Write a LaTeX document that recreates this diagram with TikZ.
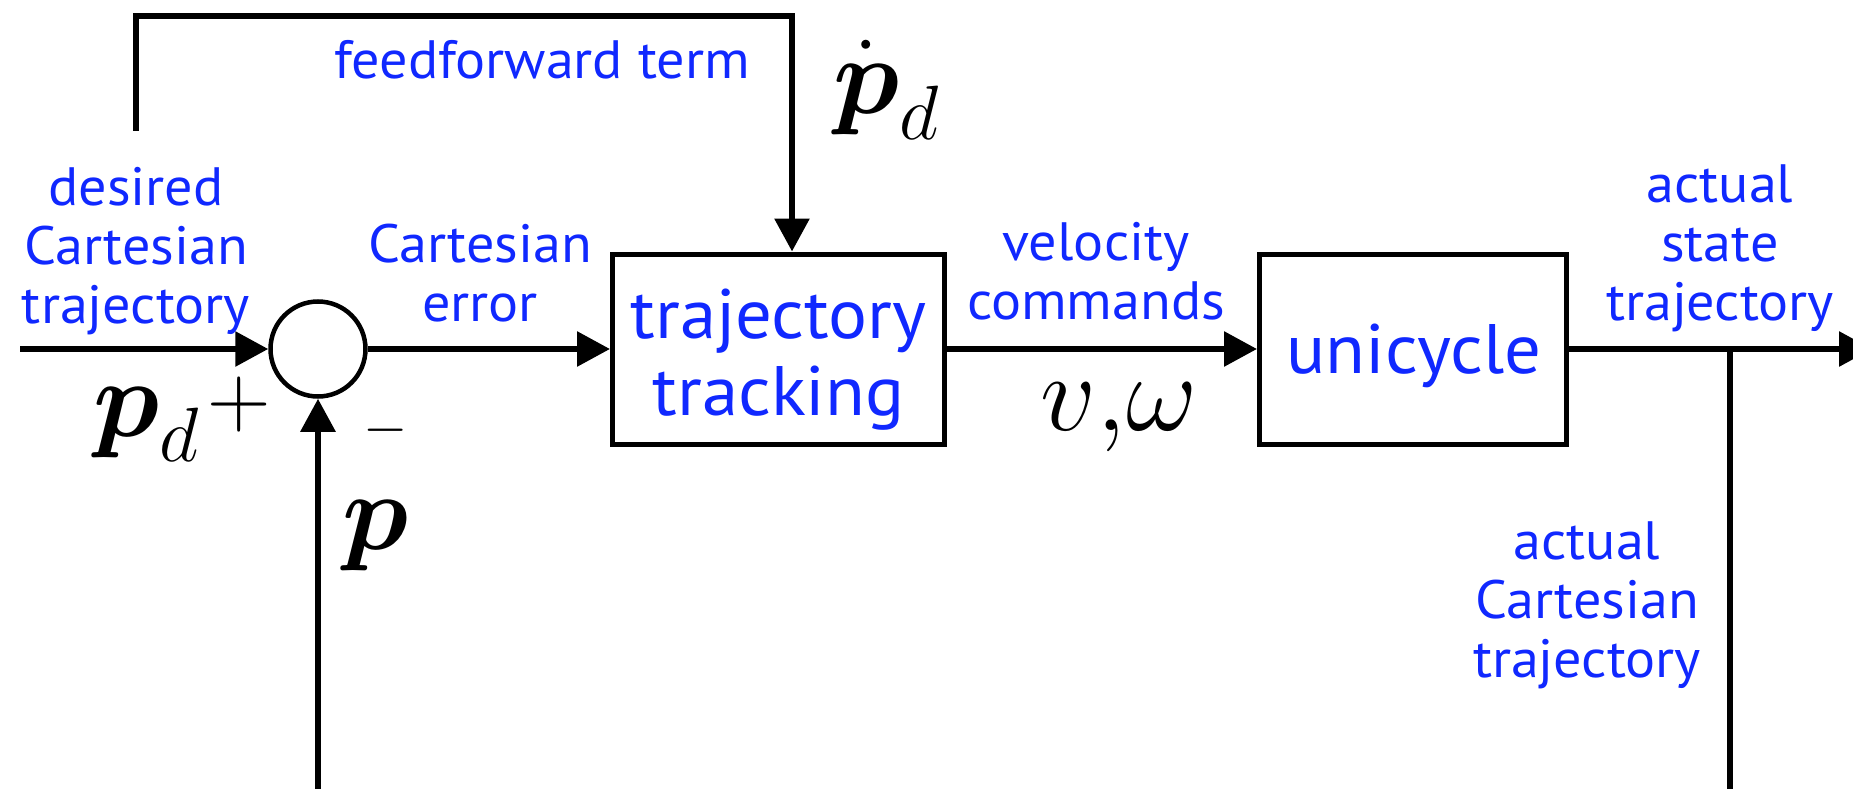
\RequirePackage{fix-cm}
\documentclass[tikz,border=0pt]{standalone}
\usepackage{amsmath}
\usepackage{fontspec}
\setmainfont{PT Sans}[FakeStretch=1.04]
\usetikzlibrary{arrows.meta,calc}
\definecolor{lblue}{RGB}{16,40,255}
\tikzset{
  conn/.style={line width=6pt, -{Triangle[length=33pt,width=34pt]}},
  plain/.style={line width=6pt},
  blockbox/.style={draw, line width=5pt, rectangle, inner sep=0pt},
  sumnode/.style={draw, circle, line width=4.5pt, minimum size=95pt, inner sep=0pt},
  lbl/.style={text=lblue, font=\fontsize{54}{59}\selectfont, align=center, inner sep=0pt},
  boxlbl/.style={text=lblue, font=\fontsize{70}{77}\selectfont, align=center, inner sep=0pt},
  mathlbl/.style={font=\fontsize{110}{120}\selectfont, inner sep=0pt},
}
\begin{document}
\begin{tikzpicture}[x=1pt,y=-1pt]
\useasboundingbox (0,0) rectangle (1853,789);
\clip (0,0) rectangle (1853,789);
% blocks
\node[sumnode] (s) at (318,349) {};
\node[blockbox, minimum width=332pt, minimum height=190pt] (b1) at (778.5,349) {};
\node[blockbox, minimum width=307pt, minimum height=190pt] (b2) at (1413,349) {};
% block texts
\node[boxlbl] (b1t) at (778.5,360) {trajectory\\tracking};
\node[boxlbl] (b2t) at (1414,356) {unicycle};
% coordinates
\coordinate (in) at (20,349);
\coordinate (out) at (1872,349);
\coordinate (br) at (1730,349);
\coordinate (bot) at (1730,791.5);
\coordinate (ffs) at (136,131);
\coordinate (ffc) at (792,16);
% connectors
\draw[conn] (in) -- (s.west);
\draw[conn] (s.east) -- (b1.west);
\draw[conn] (b1.east) -- (b2.west);
\draw[conn] (b2.east) -- (out);
\draw[conn] (br) -- (bot) -- (bot -| s.south) -- (s.south);
\draw[conn] (ffs) |- (ffc) -- (ffc |- b1.north);
% labels
\node[lbl, anchor=base] (ffl) at (542,79) {feedforward term};
\node[mathlbl, anchor=base] (pdd) at (886,114) {$\dot{\boldsymbol{p}}_d$};
\node[lbl] (desl) at (136,251) {desired\\Cartesian\\trajectory};
\node[mathlbl, anchor=base] (pdl) at (146,436) {$\boldsymbol{p}_d$};
\node[font=\fontsize{88}{90}\selectfont, inner sep=0pt] (plus) at (239,405) {$+$};
\node[font=\fontsize{57}{60}\selectfont, inner sep=0pt] (minus) at (386,430) {$-$};
\node[mathlbl, anchor=base] (pl) at (376,549) {$\boldsymbol{p}$};
\node[lbl] (cel) at (480,273) {Cartesian\\error};
\node[lbl] (vcl) at (1096,271) {velocity\\commands};
\node[mathlbl, anchor=base] (vwl) at (1119,430) {$v{,}\omega$};
\node[lbl] (asl) at (1720,248) {actual\\state\\trajectory};
\node[lbl] (acl) at (1587,605) {actual\\Cartesian\\trajectory};
\end{tikzpicture}
\end{document}
